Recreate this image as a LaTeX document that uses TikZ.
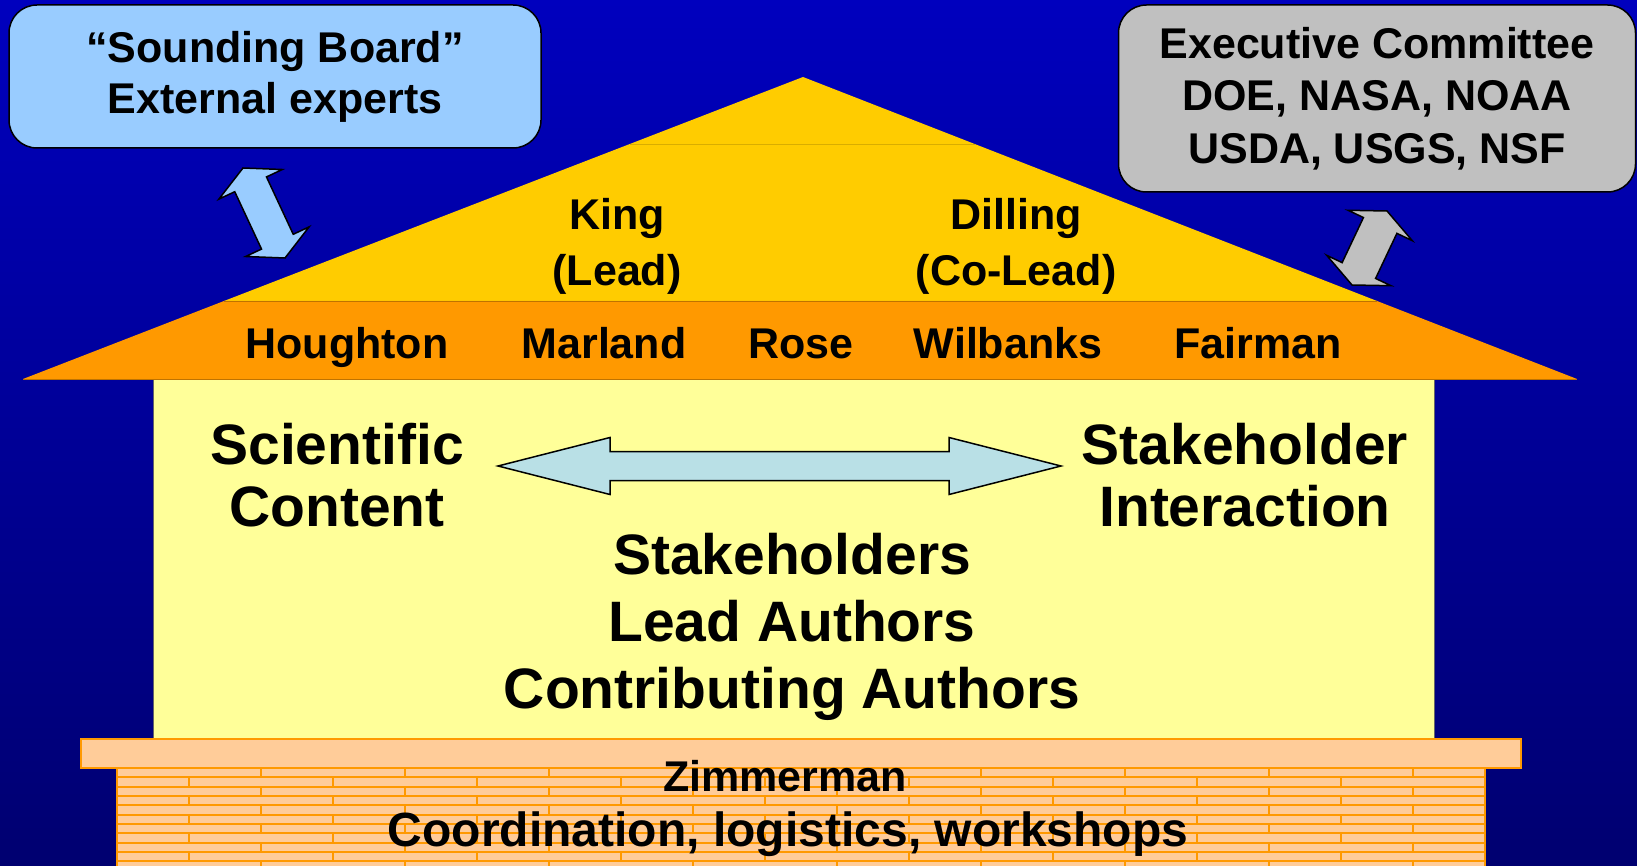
\documentclass[tikz,border=0pt]{standalone}
\usepackage{fontspec}
\setmainfont{Liberation Sans}
\usetikzlibrary{calc}
\definecolor{skyblue}{RGB}{153,204,255}
\definecolor{boxgray}{RGB}{192,192,192}
\definecolor{roofyellow}{RGB}{255,204,0}
\definecolor{rooforange}{RGB}{255,153,0}
\definecolor{wallyellow}{RGB}{255,255,153}
\definecolor{brickpeach}{RGB}{255,204,153}
\definecolor{arrowcyan}{RGB}{185,224,230}
\definecolor{bgtop}{RGB}{0,0,190}
\definecolor{bgbottom}{RGB}{0,0,112}

% block double arrow: #1 options, #2 #3 tips, #4 head length, #5 head half width, #6 shaft half width
\newcommand{\dblarrow}[6]{%
  \draw[#1] (#2) -- ($(#2)!#4!(#3)!#5!90:(#3)$) -- ($(#2)!#4!(#3)!#6!90:(#3)$)
    -- ($(#3)!#4!(#2)!#6!-90:(#2)$) -- ($(#3)!#4!(#2)!#5!-90:(#2)$) -- (#3)
    -- ($(#3)!#4!(#2)!#5!90:(#2)$) -- ($(#3)!#4!(#2)!#6!90:(#2)$)
    -- ($(#2)!#4!(#3)!#6!-90:(#3)$) -- ($(#2)!#4!(#3)!#5!-90:(#3)$) -- cycle;}

\begin{document}
\begin{tikzpicture}[x=1pt, y=-1pt,
  every node/.style={inner sep=0pt, font=\bfseries},
  bubble/.style={draw=black, line width=1.5pt, rounded corners=28pt, align=center,
    font=\fontsize{43}{51}\selectfont\bfseries},
  roofname/.style={anchor=base, font=\fontsize{43}{52}\selectfont\bfseries},
  bigtext/.style={align=center, font=\fontsize{57}{62}\selectfont\bfseries},
  blockarrow/.style={draw=black, line width=1.5pt, line join=miter},
  brick/.style={rooforange, line width=1.8pt}]
\shade[top color=bgtop, bottom color=bgbottom] (0,0) rectangle (1637,866);
\useasboundingbox (0,0) rectangle (1637,866);

% walls
\draw[fill=wallyellow, draw=black!60, line width=0.8pt] (153,379) rectangle (1434,739);

% roof
\fill[roofyellow] (803,77) -- (1377,301) -- (224,301) -- cycle;
\draw[roofyellow!85!black, line width=0.6pt] (630,144) -- (976,144);
\fill[rooforange] (224,301) -- (1377,301) -- (1577,379) -- (23,379) -- cycle;
\draw[rooforange!75!black, line width=0.6pt] (224,301) -- (1377,301) (23,379) -- (1577,379);

% foundation
\begin{scope}
  \clip (117,768) rectangle (1485,866);
  \fill[brickpeach] (117,768) rectangle (1485,866);
  \foreach \r in {0,...,10}
  {
    \pgfmathsetmacro{\rowy}{768+9.33*\r}
    \pgfmathsetmacro{\rowx}{261-72*mod(\r,2)}
    \draw[brick] (117,\rowy) -- (1485,\rowy);
    \foreach \k in {0,...,9}
    {
      \draw[brick] (\rowx+144*\k, \rowy) -- ++(0,9.33);
    }
  }
\end{scope}
\draw[brick, line width=2pt] (117,768) -- (117,866) (1485,768) -- (1485,866);
\draw[fill=brickpeach, draw=rooforange, line width=2pt] (81,739) rectangle (1521,768);

% outside boxes
\node[bubble, fill=skyblue, minimum width=532, minimum height=143] (sound) at (275,76.5)
  {“Sounding Board”\\External experts};
\node[bubble, fill=boxgray, minimum width=517, minimum height=187,
  font=\fontsize{43}{52.5}\selectfont\bfseries] (exec) at (1377,98.5)
  {Executive Committee\\DOE, NASA, NOAA\\USDA, USGS, NSF};

% arrows
\coordinate (soundtip) at (243,168);
\coordinate (rooftipL) at (285,258);
\coordinate (exectip) at (1387,211);
\coordinate (rooftipR) at (1352,285);
\coordinate (scitip) at (498,466);
\coordinate (staketip) at (1061,466);
\dblarrow{blockarrow, fill=skyblue}{soundtip}{rooftipL}{18pt}{35pt}{17.5pt}
\dblarrow{blockarrow, fill=boxgray}{exectip}{rooftipR}{16pt}{35.5pt}{18.5pt}
\dblarrow{blockarrow, fill=arrowcyan}{scitip}{staketip}{112pt}{28.5pt}{14.5pt}

% roof names
\node[align=center, font=\fontsize{43}{56}\selectfont\bfseries] (king) at (617,246) {King\\(Lead)};
\node[align=center, font=\fontsize{43}{56}\selectfont\bfseries] (dilling) at (1016,246) {Dilling\\(Co-Lead)};
\node[roofname] (houghton) at (347,358) {Houghton};
\node[roofname] (marland) at (604,358) {Marland};
\node[roofname] (rose) at (801,358) {Rose};
\node[roofname] (wilbanks) at (1008,358) {Wilbanks};
\node[roofname] (fairman) at (1258,358) {Fairman};

% inside the house
\node[bigtext] (science) at (337,475) {Scientific\\Content};
\node[bigtext] (stake) at (1245,475) {Stakeholder\\Interaction};
\node[bigtext, font=\fontsize{57}{67}\selectfont\bfseries] (authors) at (792,627)
  {Stakeholders\\Lead Authors\\Contributing Authors};
\node[anchor=base, font=\fontsize{43}{52}\selectfont\bfseries] (zimmer) at (785,791) {Zimmerman};
\node[anchor=base, font=\fontsize{48}{56}\selectfont\bfseries] (logistics) at (788,846)
  {Coordination, logistics, workshops};
\end{tikzpicture}
\end{document}
